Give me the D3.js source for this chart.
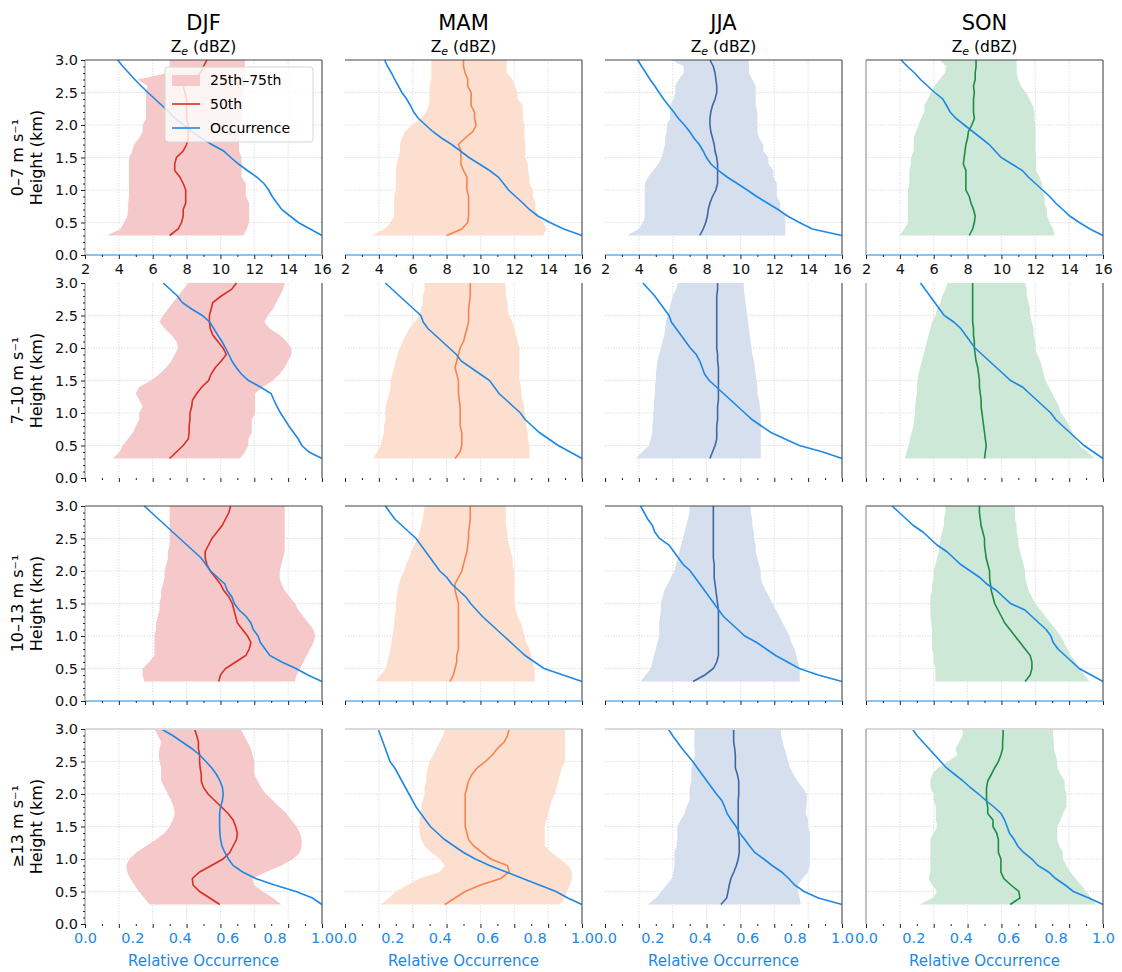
<!DOCTYPE html>
<html>
<head>
<meta charset="utf-8">
<script src="https://cdn.jsdelivr.net/npm/d3@7"></script>
<style>
  body { margin: 0; background: #fff; }
  text { font-family: "DejaVu Sans", sans-serif; }
</style>
</head>
<body>
<div id="container"></div>
<script>
/* CONSTANTS AND GLOBALS */
const width = 1122, height = 972
const colLeft = [85, 345, 605, 866], rowTop = [60, 283, 506, 729]
const pw = 237, ph = 195

/* DATA */
const seasons = ["DJF", "MAM", "JJA", "SON"]
const windBins = ["0–7 m s⁻¹", "7–10 m s⁻¹", "10–13 m s⁻¹", "≥13 m s⁻¹"]
const heights = [0.3,0.4,0.5,0.6,0.7,0.8,0.9,1.0,1.1,1.2,1.3,1.4,1.5,1.6,1.7,1.8,1.9,2.0,2.1,2.2,2.3,2.4,2.5,2.6,2.7,2.8,2.9,3.0]
const zeTicks = [2, 4, 6, 8, 10, 12, 14, 16]
const zeMinor = [3, 5, 7, 9, 11, 13, 15]
const occTicks = [0, 0.2, 0.4, 0.6, 0.8, 1.0]
const yTicks = [0, 0.5, 1.0, 1.5, 2.0, 2.5, 3.0]

// Ze percentiles (dBZ), one row per wind bin
const djfP25 = [
  [3.3,4.1,4.3,4.5,4.55,4.55,4.6,4.6,4.6,4.6,4.6,4.6,4.6,4.8,4.9,5.2,5.4,5.4,5.6,5.6,5.6,5.6,5.6,5.7,5.1,6.9,7.0,7.0],
  [3.64,4.04,4.23,4.53,4.83,5.0,5.2,5.2,5.4,5.2,5.0,5.2,5.9,6.4,6.8,7.1,7.3,7.5,7.4,7.1,6.7,6.4,6.6,6.9,7.2,7.5,7.8,8.1],
  [5.5,5.4,5.4,5.8,6.1,6.1,6.1,6.1,6.2,6.2,6.3,6.4,6.4,6.5,6.5,6.6,6.7,6.7,6.8,6.9,6.9,7.0,7.0,7.0,7.0,7.0,7.0,7.0],
  [5.81,5.5,5.18,4.92,4.67,4.49,4.43,4.63,5.02,5.61,6.2,6.7,7.0,7.19,7.29,7.23,7.09,6.9,6.7,6.5,6.5,6.5,6.4,6.36,6.4,6.5,6.3,6.1]
]
const djfP50 = [
  [7.0,7.5,7.7,7.8,7.8,7.95,7.95,7.95,7.8,7.6,7.3,7.3,7.4,7.8,8.0,8.1,8.1,8.1,8.0,8.0,8.0,8.0,7.9,7.8,8.4,8.8,9.0,9.2],
  [7.0,7.4,7.8,8.1,8.15,8.15,8.2,8.2,8.3,8.35,8.6,8.9,9.3,9.45,9.7,10.05,10.35,10.15,9.85,9.55,9.4,9.35,9.35,9.45,9.55,10.05,10.65,10.95],
  [9.9,10.0,10.3,10.9,11.5,11.7,11.8,11.6,11.3,11.0,10.9,10.8,10.7,10.5,10.2,10.0,9.7,9.4,9.2,9.1,9.1,9.3,9.5,9.8,10.1,10.3,10.5,10.6],
  [9.96,9.37,8.77,8.38,8.34,8.77,9.47,10.15,10.55,10.75,10.95,11.0,10.9,10.75,10.45,10.06,9.66,9.27,9.0,8.87,8.87,8.8,8.77,8.77,8.7,8.7,8.6,8.47]
]
const djfP75 = [
  [11.35,11.55,11.7,11.7,11.7,11.7,11.5,11.5,11.5,11.25,11.25,11.25,11.25,11.1,11.1,11.1,11.1,11.1,11.3,11.3,11.3,11.3,11.3,11.45,11.45,11.45,11.45,11.45],
  [11.15,11.45,11.65,11.65,11.85,11.85,11.85,12.05,12.05,12.05,12.05,12.5,13.1,13.5,13.8,14.0,14.2,14.2,13.9,13.5,12.9,12.6,12.8,13.1,13.3,13.5,13.7,13.8],
  [14.4,14.5,14.7,14.9,15.1,15.3,15.5,15.6,15.5,15.2,14.9,14.6,14.4,14.1,13.8,13.6,13.5,13.5,13.6,13.7,13.8,13.8,13.8,13.8,13.8,13.8,13.8,13.8],
  [13.6,13.1,12.5,12.0,11.9,12.7,13.6,14.3,14.7,14.8,14.8,14.7,14.5,14.2,13.9,13.5,13.1,12.7,12.4,12.2,12.0,12.0,12.0,11.9,11.8,11.6,11.4,11.2]
]
const mamP25 = [
  [3.57,4.35,4.7,4.9,4.9,4.9,4.9,5.0,5.0,5.0,5.0,5.05,5.15,5.25,5.25,5.35,5.55,5.95,6.5,6.8,6.95,7.0,7.0,7.0,7.1,7.1,7.1,7.1],
  [3.65,3.9,4.1,4.2,4.3,4.3,4.4,4.4,4.4,4.5,4.6,4.7,4.7,4.8,4.9,5.0,5.1,5.25,5.4,5.6,5.8,6.1,6.4,6.5,6.6,6.6,6.7,6.7],
  [3.8,4.1,4.4,4.5,4.6,4.7,4.75,4.8,4.85,4.9,4.95,5.0,5.0,5.05,5.1,5.2,5.3,5.5,5.6,5.8,5.9,6.1,6.3,6.4,6.5,6.6,6.65,6.7],
  [4.1,4.6,5.0,5.7,6.4,7.6,7.9,7.6,7.1,6.7,6.5,6.4,6.4,6.4,6.5,6.5,6.6,6.7,6.7,6.8,6.8,6.9,7.0,7.2,7.4,7.6,7.8,7.9]
]
const mamP50 = [
  [8.0,8.9,9.25,9.3,9.3,9.3,9.3,9.2,9.2,9.2,9.0,8.85,8.85,8.85,8.7,9.1,9.55,9.75,9.65,9.65,9.45,9.45,9.45,9.25,9.25,9.1,9.0,9.0],
  [8.5,8.8,8.9,8.9,8.9,8.8,8.8,8.8,8.8,8.75,8.7,8.7,8.7,8.6,8.5,8.6,8.7,8.8,9.0,9.1,9.2,9.3,9.3,9.3,9.35,9.4,9.4,9.4],
  [8.2,8.4,8.5,8.6,8.6,8.7,8.7,8.7,8.7,8.7,8.7,8.7,8.7,8.6,8.5,8.5,8.7,8.9,9.0,9.1,9.2,9.25,9.3,9.3,9.35,9.4,9.4,9.4],
  [7.9,8.5,9.1,10.0,11.2,11.7,11.6,10.6,10.1,9.6,9.3,9.2,9.1,9.1,9.1,9.1,9.1,9.1,9.2,9.3,9.5,9.8,10.3,10.7,11.0,11.4,11.6,11.7]
]
const mamP75 = [
  [13.7,13.9,13.7,13.4,13.25,13.25,13.1,13.1,12.9,12.9,12.8,12.8,12.65,12.65,12.65,12.6,12.6,12.6,12.5,12.5,12.5,12.2,12.2,12.0,11.9,11.55,11.55,11.55],
  [12.9,12.9,12.9,12.8,12.8,12.7,12.7,12.6,12.6,12.5,12.4,12.4,12.3,12.3,12.3,12.3,12.3,12.3,12.2,12.1,12.0,11.9,11.7,11.6,11.6,11.5,11.5,11.45],
  [13.2,13.2,13.2,13.1,13.0,12.9,12.7,12.6,12.5,12.4,12.2,12.1,12.0,12.0,12.0,12.0,12.0,12.0,11.9,11.9,11.8,11.7,11.6,11.6,11.5,11.5,11.5,11.5],
  [14.7,15.0,15.1,15.3,15.4,15.4,15.2,14.7,14.2,13.8,13.8,13.8,13.8,13.9,14.0,14.1,14.2,14.4,14.5,14.6,14.7,14.8,15.0,15.0,15.0,15.0,15.0,15.0]
]
const jjaP25 = [
  [3.3,4.0,4.25,4.35,4.35,4.35,4.35,4.35,4.35,4.55,4.85,5.15,5.35,5.45,5.55,5.55,5.65,5.65,5.85,5.85,5.85,6.05,6.15,6.15,6.35,6.65,6.65,5.95],
  [3.8,4.2,4.6,4.7,4.8,4.8,4.85,4.85,4.9,4.9,4.95,4.95,5.0,5.0,5.05,5.1,5.2,5.3,5.4,5.5,5.55,5.6,5.7,5.8,5.9,6.0,6.2,6.3],
  [4.1,4.4,4.7,4.8,4.9,5.0,5.1,5.2,5.2,5.2,5.25,5.3,5.3,5.4,5.5,5.7,5.9,6.1,6.2,6.3,6.4,6.5,6.6,6.7,6.8,6.9,7.0,7.0],
  [4.54,5.0,5.32,5.64,5.95,6.06,6.1,6.1,6.1,6.23,6.27,6.27,6.27,6.48,6.7,6.8,7.0,7.0,7.0,7.1,7.1,7.1,7.2,7.33,7.28,7.28,7.28,7.28]
]
const jjaP50 = [
  [7.6,7.8,7.95,8.05,8.1,8.2,8.35,8.55,8.65,8.65,8.65,8.65,8.6,8.5,8.45,8.35,8.25,8.2,8.2,8.25,8.35,8.5,8.6,8.6,8.55,8.5,8.4,8.2],
  [8.2,8.35,8.5,8.6,8.6,8.6,8.65,8.65,8.65,8.7,8.7,8.7,8.7,8.7,8.7,8.65,8.65,8.6,8.6,8.6,8.6,8.6,8.6,8.6,8.6,8.6,8.65,8.65],
  [7.2,7.9,8.4,8.6,8.7,8.7,8.7,8.7,8.7,8.7,8.7,8.7,8.65,8.6,8.55,8.5,8.45,8.45,8.45,8.4,8.4,8.4,8.4,8.4,8.4,8.4,8.4,8.4],
  [8.85,9.19,9.27,9.34,9.44,9.61,9.76,9.87,9.93,9.93,9.93,9.87,9.87,9.87,9.87,9.87,9.87,9.9,9.9,9.9,9.82,9.7,9.7,9.7,9.66,9.6,9.6,9.6]
]
const jjaP75 = [
  [12.65,12.65,12.65,12.65,12.35,12.35,12.15,12.15,12.15,11.95,11.95,11.65,11.65,11.35,11.35,11.1,11.0,11.0,11.0,11.0,10.9,10.9,10.9,10.9,10.7,10.5,10.5,10.5],
  [11.2,11.2,11.2,11.2,11.2,11.2,11.2,11.2,11.15,11.1,11.0,11.0,10.95,10.9,10.85,10.8,10.7,10.65,10.6,10.55,10.5,10.45,10.4,10.35,10.3,10.25,10.2,10.2],
  [13.5,13.5,13.5,13.4,13.3,13.2,13.0,12.9,12.7,12.5,12.3,12.1,11.9,11.7,11.5,11.3,11.2,11.2,11.1,11.0,10.9,10.9,10.8,10.8,10.7,10.7,10.6,10.6],
  [13.57,13.5,13.4,13.4,13.67,14.0,14.1,14.1,14.1,14.1,14.1,14.1,14.0,14.0,13.85,13.9,13.92,13.92,13.67,13.36,13.14,12.93,12.83,12.72,12.6,12.5,12.4,12.4]
]
const sonP25 = [
  [3.97,4.27,4.47,4.47,4.47,4.47,4.47,4.47,4.56,4.56,4.56,4.66,4.66,4.82,4.82,4.82,4.96,5.1,5.25,5.45,5.45,5.65,5.85,6.05,6.35,6.65,6.75,6.35],
  [4.3,4.4,4.5,4.6,4.7,4.8,4.85,4.9,4.9,4.95,5.0,5.0,5.05,5.1,5.2,5.3,5.4,5.5,5.6,5.7,5.8,5.9,6.1,6.2,6.4,6.5,6.7,6.8],
  [6.1,6.1,6.1,6.0,6.0,5.9,5.9,5.9,5.9,5.85,5.8,5.8,5.8,5.8,5.9,5.9,6.0,6.0,6.1,6.2,6.3,6.35,6.4,6.5,6.6,6.6,6.7,6.7],
  [5.17,5.91,6.23,5.91,5.7,5.8,5.8,5.8,5.8,5.8,5.8,6.0,6.23,6.12,6.12,6.12,6.0,6.0,5.8,5.8,5.91,6.23,6.86,7.39,7.29,7.5,7.71,7.71]
]
const sonP50 = [
  [8.1,8.3,8.4,8.45,8.35,8.2,8.1,7.9,7.9,7.9,7.9,7.75,7.8,7.85,7.9,8.0,8.05,8.25,8.4,8.35,8.35,8.35,8.4,8.35,8.45,8.45,8.5,8.5],
  [9.0,9.05,9.1,9.05,9.0,8.95,8.9,8.85,8.8,8.8,8.75,8.7,8.7,8.65,8.6,8.5,8.45,8.4,8.4,8.35,8.35,8.3,8.3,8.3,8.3,8.3,8.3,8.3],
  [11.4,11.7,11.8,11.8,11.7,11.4,11.1,10.8,10.5,10.2,10.0,9.8,9.6,9.5,9.4,9.35,9.3,9.3,9.2,9.1,9.05,9.0,9.0,8.9,8.8,8.75,8.7,8.7],
  [10.52,11.09,11.03,10.56,10.14,9.97,9.97,9.97,9.82,9.82,9.82,9.72,9.5,9.5,9.19,9.19,9.12,9.12,9.12,9.19,9.4,9.6,9.82,9.97,10.07,10.07,10.1,10.1]
]
const sonP75 = [
  [13.15,13.05,12.85,12.7,12.7,12.55,12.55,12.4,12.4,12.25,12.05,12.05,12.05,12.0,12.0,12.0,12.0,12.0,11.95,11.95,11.85,11.65,11.45,11.15,11.0,10.9,10.9,10.9],
  [15.5,15.1,14.6,14.4,14.2,14.0,13.8,13.5,13.4,13.2,13.0,12.8,12.6,12.5,12.4,12.3,12.1,12.0,12.0,11.9,11.9,11.8,11.7,11.7,11.6,11.5,11.5,11.4],
  [15.2,14.9,14.6,14.4,14.1,13.9,13.7,13.5,13.2,12.9,12.6,12.3,12.0,11.8,11.6,11.5,11.4,11.4,11.3,11.2,11.1,11.0,11.0,10.9,10.9,10.8,10.8,10.8],
  [15.58,15.32,15.0,14.7,14.38,14.06,13.84,13.63,13.63,13.42,13.3,13.3,13.3,13.5,13.63,13.84,13.84,13.84,13.74,13.74,13.5,13.3,13.3,13.2,13.1,13.1,13.05,13.05]
]

// relative occurrence (0-1), one row per wind bin
const djfOcc = [
  [1.0,0.95,0.9,0.865,0.83,0.81,0.79,0.775,0.755,0.724,0.685,0.648,0.615,0.585,0.535,0.49,0.45,0.415,0.38,0.355,0.325,0.295,0.265,0.237,0.21,0.185,0.16,0.138],
  [1.0,0.945,0.915,0.9,0.88,0.86,0.843,0.825,0.81,0.797,0.785,0.74,0.69,0.66,0.638,0.62,0.607,0.593,0.578,0.56,0.543,0.526,0.495,0.45,0.41,0.39,0.36,0.33],
  [1.0,0.94,0.89,0.83,0.78,0.76,0.74,0.73,0.71,0.7,0.68,0.65,0.63,0.62,0.6,0.59,0.56,0.53,0.51,0.49,0.46,0.43,0.4,0.37,0.34,0.31,0.28,0.25],
  [1.0,0.96,0.89,0.8,0.72,0.665,0.625,0.605,0.59,0.578,0.572,0.569,0.568,0.568,0.568,0.572,0.58,0.583,0.58,0.57,0.555,0.535,0.51,0.484,0.45,0.41,0.37,0.322]
]
const mamOcc = [
  [1.0,0.923,0.865,0.814,0.778,0.75,0.72,0.69,0.669,0.647,0.61,0.567,0.523,0.487,0.45,0.407,0.37,0.34,0.31,0.29,0.276,0.26,0.24,0.225,0.21,0.196,0.18,0.167],
  [1.0,0.95,0.9,0.86,0.82,0.79,0.76,0.74,0.71,0.68,0.65,0.63,0.61,0.57,0.53,0.49,0.47,0.44,0.41,0.38,0.35,0.33,0.32,0.29,0.26,0.23,0.2,0.17],
  [1.0,0.92,0.84,0.8,0.76,0.73,0.7,0.67,0.64,0.61,0.58,0.555,0.53,0.51,0.48,0.45,0.43,0.4,0.38,0.36,0.34,0.32,0.3,0.27,0.24,0.21,0.19,0.17],
  [1.0,0.94,0.89,0.82,0.75,0.68,0.61,0.55,0.5,0.46,0.42,0.39,0.36,0.34,0.32,0.3,0.285,0.27,0.255,0.24,0.225,0.21,0.19,0.18,0.17,0.16,0.15,0.14]
]
const jjaOcc = [
  [1.0,0.875,0.82,0.77,0.73,0.685,0.64,0.6,0.558,0.515,0.478,0.447,0.428,0.414,0.398,0.375,0.357,0.335,0.31,0.29,0.268,0.247,0.228,0.21,0.19,0.173,0.155,0.138],
  [1.0,0.92,0.82,0.76,0.7,0.66,0.62,0.59,0.56,0.53,0.5,0.47,0.44,0.42,0.41,0.4,0.385,0.36,0.34,0.32,0.3,0.28,0.27,0.25,0.23,0.21,0.185,0.16],
  [1.0,0.9,0.82,0.77,0.72,0.68,0.64,0.59,0.56,0.53,0.5,0.48,0.46,0.44,0.42,0.4,0.38,0.36,0.33,0.31,0.29,0.27,0.23,0.21,0.2,0.18,0.165,0.15],
  [1.0,0.9,0.84,0.8,0.775,0.745,0.705,0.67,0.632,0.61,0.59,0.568,0.553,0.533,0.515,0.505,0.493,0.47,0.45,0.43,0.41,0.39,0.37,0.348,0.325,0.305,0.285,0.267]
]
const sonOcc = [
  [1.0,0.945,0.9,0.86,0.83,0.8,0.775,0.745,0.715,0.685,0.66,0.615,0.57,0.545,0.52,0.485,0.45,0.415,0.38,0.355,0.34,0.324,0.29,0.26,0.23,0.205,0.175,0.148],
  [1.0,0.96,0.92,0.89,0.86,0.83,0.8,0.78,0.75,0.72,0.69,0.66,0.61,0.58,0.55,0.52,0.49,0.46,0.44,0.42,0.4,0.37,0.33,0.31,0.29,0.27,0.25,0.23],
  [1.0,0.95,0.9,0.87,0.84,0.81,0.79,0.78,0.76,0.73,0.7,0.67,0.61,0.58,0.55,0.51,0.48,0.44,0.4,0.37,0.34,0.3,0.27,0.24,0.2,0.17,0.14,0.11],
  [1.0,0.94,0.875,0.84,0.8,0.77,0.725,0.7,0.665,0.64,0.625,0.605,0.595,0.585,0.57,0.54,0.506,0.475,0.44,0.41,0.375,0.34,0.315,0.29,0.265,0.24,0.215,0.196]
]

const p25 = [djfP25, mamP25, jjaP25, sonP25]
const p50 = [djfP50, mamP50, jjaP50, sonP50]
const p75 = [djfP75, mamP75, jjaP75, sonP75]
const occ = [djfOcc, mamOcc, jjaOcc, sonOcc]

const fillColors = ["#f5c9c9", "#fddfd0", "#d6dfed", "#cde8d7"]
const lineColors = ["#db2e22", "#f8834f", "#3d68a8", "#1e8c44"]
const occColor = "#1e88e5"

/* SCALES */
const xScale = d3.scaleLinear().domain([2, 16]).range([0, pw])
const oScale = d3.scaleLinear().domain([0, 1]).range([0, pw])
const yScale = d3.scaleLinear().domain([0, 3]).range([ph, 0])

/* CREATE SVG ELEMENT */
const svg = d3.select("#container")
  .append("svg")
  .attr("width", width)
  .attr("height", height)

svg.append("rect").attr("width", width).attr("height", height).attr("fill", "white")

const areaGen = d3.area()
  .y(d => yScale(d.h))
  .x0(d => xScale(d.lo))
  .x1(d => xScale(d.hi))

const medGen = d3.line()
  .x(d => xScale(d.v))
  .y(d => yScale(d.h))

const occGen = d3.line()
  .x(d => oScale(d.v))
  .y(d => yScale(d.h))

seasons.forEach((season, c) => {
  // column titles
  svg.append("text")
    .attr("x", colLeft[c] + pw / 2).attr("y", 30)
    .attr("text-anchor", "middle")
    .style("font-size", "21px")
    .text(season)
  const zl = svg.append("text")
    .attr("x", colLeft[c] + pw / 2).attr("y", 52)
    .attr("text-anchor", "middle")
    .style("font-size", "15.5px")
  zl.append("tspan").text("Z")
  zl.append("tspan").attr("dy", 3).style("font-size", "11px").style("font-style", "italic").text("e")
  zl.append("tspan").attr("dy", -3).text(" (dBZ)")

  windBins.forEach((bin, r) => {
    const g = svg.append("g").attr("transform", `translate(${colLeft[c]}, ${rowTop[r]})`)

    // grid
    g.selectAll("line.gx")
      .data(zeTicks.slice(1, -1))
      .join("line")
      .attr("x1", d => xScale(d)).attr("x2", d => xScale(d))
      .attr("y1", 0).attr("y2", ph)
      .attr("stroke", "#cfcfcf").attr("stroke-width", 0.8).attr("stroke-dasharray", "1.2,1.6")
    g.selectAll("line.gy")
      .data(yTicks.slice(1, -1))
      .join("line")
      .attr("y1", d => yScale(d)).attr("y2", d => yScale(d))
      .attr("x1", 0).attr("x2", pw)
      .attr("stroke", "#cfcfcf").attr("stroke-width", 0.8).attr("stroke-dasharray", "1.2,1.6")

    const band = heights.map((h, i) => ({ h, lo: p25[c][r][i], hi: p75[c][r][i] }))
    const med = heights.map((h, i) => ({ h, v: p50[c][r][i] }))
    const oc = heights.map((h, i) => ({ h, v: occ[c][r][i] }))

    g.append("path")
      .datum(band)
      .attr("fill", fillColors[c])
      .attr("d", areaGen)

    g.append("path")
      .datum(med)
      .attr("fill", "none")
      .attr("stroke", lineColors[c])
      .attr("stroke-width", 1.6)
      .attr("d", medGen)

    g.append("path")
      .datum(oc)
      .attr("fill", "none")
      .attr("stroke", occColor)
      .attr("stroke-width", 1.6)
      .attr("d", occGen)

    // spines
    if (r === 0 || r === 2)
      g.append("line").attr("x1", 0).attr("x2", pw).attr("y1", 0).attr("y2", 0).attr("stroke", "#444").attr("stroke-width", 1.2)
    if (r === 3)
      g.append("line").attr("x1", 0).attr("x2", pw).attr("y1", 0).attr("y2", 0).attr("stroke", "#dadada").attr("stroke-width", 2)
    g.append("line").attr("x1", pw).attr("x2", pw).attr("y1", 0).attr("y2", ph).attr("stroke", "#555").attr("stroke-width", 1.2)
    if (c === 0 || c === 3)
      g.append("line").attr("x1", 0).attr("x2", 0).attr("y1", 0).attr("y2", ph).attr("stroke", "#999").attr("stroke-width", 1.2)
    if (r === 0 || r === 2)
      g.append("line").attr("x1", 0).attr("x2", pw).attr("y1", ph).attr("y2", ph).attr("stroke", "#8cc2ee").attr("stroke-width", 2)

    // bottom ticks (Ze)
    const xAxis = g.append("g")
      .attr("transform", `translate(0, ${ph})`)
      .call(d3.axisBottom(xScale).tickValues(zeTicks).tickSize(4)
        .tickFormat(r === 0 ? d3.format("d") : ""))
    xAxis.select(".domain").remove()
    xAxis.selectAll("line").attr("stroke", "#222")
    xAxis.selectAll("text").style("font-size", "14.5px").attr("fill", "#111").attr("dy", "0.8em")
    const xMinor = g.append("g")
      .attr("transform", `translate(0, ${ph})`)
      .call(d3.axisBottom(xScale).tickValues(zeMinor).tickSize(2).tickFormat(""))
    xMinor.select(".domain").remove()
    xMinor.selectAll("line").attr("stroke", "#222")

    // occurrence labels on the last row
    if (r === 3) {
      const oAxis = g.append("g")
        .attr("transform", `translate(0, ${ph})`)
        .call(d3.axisBottom(oScale).tickValues(occTicks).tickSize(0).tickPadding(7).tickFormat(d3.format(".1f")))
      oAxis.select(".domain").remove()
      oAxis.selectAll("text").style("font-size", "14.5px").attr("fill", occColor).attr("dy", "0.8em")
      g.append("text")
        .attr("x", pw / 2).attr("y", ph + 42)
        .attr("text-anchor", "middle")
        .attr("fill", occColor)
        .style("font-size", "15px")
        .text("Relative Occurrence")
    }

    // left axis + row labels
    if (c === 0) {
      const yAxis = g.append("g")
        .call(d3.axisLeft(yScale).tickValues(yTicks).tickSize(4).tickFormat(d3.format(".1f")))
      yAxis.select(".domain").remove()
      yAxis.selectAll("line").attr("stroke", "#222")
      yAxis.selectAll("text").style("font-size", "14.5px").attr("fill", "#111")
      const yMinor = g.append("g")
        .call(d3.axisLeft(yScale).tickValues(d3.range(1, 30).filter(i => i % 5 !== 0).map(i => i / 10)).tickSize(2).tickFormat(""))
      yMinor.select(".domain").remove()
      yMinor.selectAll("line").attr("stroke", "#222")

      g.append("text")
        .attr("transform", `translate(-62, ${ph / 2}) rotate(-90)`)
        .attr("text-anchor", "middle")
        .style("font-size", "16px")
        .text(bin)
      g.append("text")
        .attr("transform", `translate(-43, ${ph / 2}) rotate(-90)`)
        .attr("text-anchor", "middle")
        .style("font-size", "16px")
        .text("Height (km)")
    }

    // legend in the first panel
    if (c === 0 && r === 0) {
      const lg = g.append("g").attr("transform", "translate(80, 7)")
      lg.append("rect")
        .attr("width", 148).attr("height", 75).attr("rx", 3)
        .attr("fill", "white").attr("fill-opacity", 0.8)
        .attr("stroke", "#d5d5d5")
      lg.append("rect").attr("x", 7).attr("y", 8).attr("width", 28).attr("height", 11).attr("fill", fillColors[0])
      lg.append("line").attr("x1", 7).attr("x2", 35).attr("y1", 37).attr("y2", 37).attr("stroke", lineColors[0]).attr("stroke-width", 1.6)
      lg.append("line").attr("x1", 7).attr("x2", 35).attr("y1", 61).attr("y2", 61).attr("stroke", occColor).attr("stroke-width", 1.6)
      const labels = ["25th–75th", "50th", "Occurrence"]
      lg.selectAll("text.leg")
        .data(labels)
        .join("text")
        .attr("x", 45).attr("y", (d, i) => 13 + i * 24)
        .attr("dy", "0.35em")
        .style("font-size", "14px")
        .text(d => d)
    }
  })
})
</script>
</body>
</html>
